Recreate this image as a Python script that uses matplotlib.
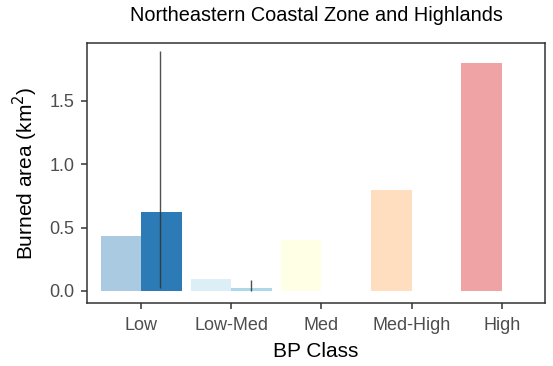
import numpy as np
import matplotlib
matplotlib.use("Agg")
import matplotlib.pyplot as plt

plt.rcParams['font.family'] = ['Liberation Sans', 'DejaVu Sans']

classes = ["Low", "Low-Med", "Med", "Med-High", "High"]
# first slot (faded) values per class
pred_vals = [0.43, 0.095, 0.40, 0.80, 1.80]
# second slot (solid) values, only for Low and Low-Med
obs_vals = [0.62, 0.026]
obs_lo = [0.02, 0.0]
obs_hi = [1.89, 0.09]
colors = ["#2c7bb6", "#abd9e9", "#ffffbf", "#fdae61", "#d7191c"]

fig = plt.figure(figsize=(5.53, 3.66), dpi=100)
ax = fig.add_axes([87/553, 63/366, (545-87)/553, (303-43)/366])

x = np.arange(len(classes))
w = 0.45
for i in range(len(classes)):
    ax.bar(x[i] - w/2, pred_vals[i], width=w, color=colors[i], alpha=0.4,
           edgecolor="none")
for i in range(len(obs_vals)):
    ax.bar(x[i] + w/2, obs_vals[i], width=w, color=colors[i], edgecolor="none")
    ax.vlines(x[i] + w/2 - 0.01, obs_lo[i], obs_hi[i], color="#333333", lw=1.0, alpha=0.85)

ax.set_xlim(-0.6, 4.48)
ax.set_ylim(-0.095, 1.957)
ax.set_yticks([0.0, 0.5, 1.0, 1.5])
ax.set_yticklabels(["0.0", "0.5", "1.0", "1.5"])
ax.set_xticks(x)
ax.set_xticklabels(classes)
ax.tick_params(labelsize=13, length=4, width=1.1)
ax.tick_params(axis="x", colors="#333333", labelcolor="#4d4d4d", pad=6)
ax.tick_params(axis="y", colors="#333333", labelcolor="#4d4d4d", pad=5)
for s in ax.spines.values():
    s.set_color("#333333")
    s.set_linewidth(1.1)

ax.set_xlabel("BP Class", fontsize=15, labelpad=6)
ax.set_ylabel("Burned area (km$^2$)", fontsize=15, labelpad=7)
ax.set_title("Northeastern Coastal Zone and Highlands", fontsize=14.3, pad=16)

fig.savefig("out.png", dpi=100)
